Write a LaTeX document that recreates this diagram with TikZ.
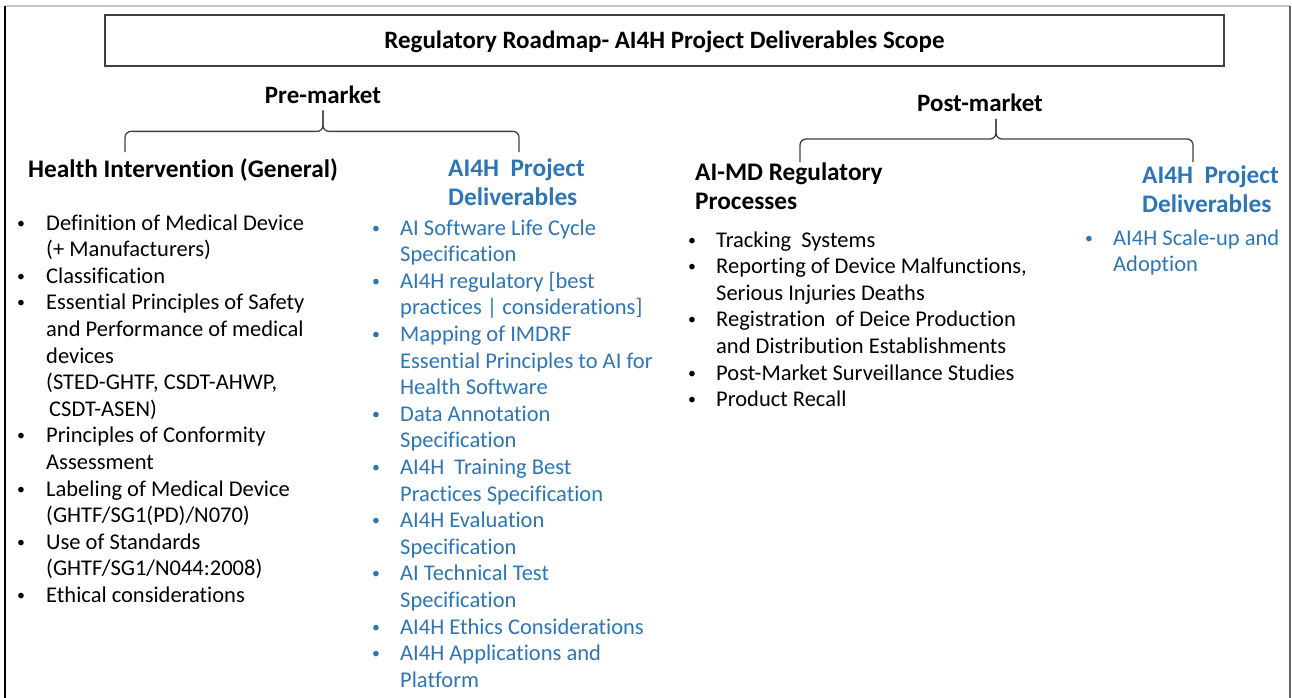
\documentclass[tikz,border=0pt]{standalone}
\usepackage{fontspec}
\setmainfont{Carlito}[Ligatures=NoCommon]
\usetikzlibrary{positioning, calc}

\definecolor{aiblue}{RGB}{46,117,182}
\definecolor{framegray}{RGB}{195,195,195}

\newcommand{\bl}{\raisebox{2pt}{\scalebox{0.7}{\textbullet}}} % list bullet

\begin{document}
\begin{tikzpicture}[
    x=1pt, y=-1pt, % one unit = one pixel, y going down
    % Styles
    title/.style={ % Roadmap title box
        rectangle,
        draw=black!75,
        line width=1.5pt,
        minimum width=1119pt,
        minimum height=51pt,
        text height=18pt,
        text depth=1pt,
        font=\bfseries\fontsize{25}{29}\selectfont
    },
    phase/.style={ % Pre-/Post-market labels
        inner sep=0pt,
        anchor=base,
        font=\bfseries\fontsize{25}{29}\selectfont
    },
    head/.style={ % Column headings (placed at last baseline)
        inner sep=0pt,
        anchor=base west,
        align=left,
        font=\bfseries\fontsize{25.3}{29}\selectfont
    },
    list/.style={ % Bullet lists
        inner sep=0pt,
        anchor=base west,
        font=\fontsize{22.5}{26.6}\selectfont
    },
    brace/.style={ % Curly braces
        draw=black!75,
        line width=1.3pt,
        rounded corners=6pt
    }
]

    % Frame
    \useasboundingbox (0,0) rectangle (1292,698);
    \draw[framegray, line width=1.2pt] (5,6) -- (1290,6);
    \draw[black!60, line width=1.2pt] (1290,6) -- (1290,698);
    \draw[black, line width=2pt] (5,6) -- (5,698);

    % Title
    \node[title] (title) at (664.5,40.5) {Regulatory Roadmap- AI4H Project Deliverables Scope};

    % Phases
    \node[phase] (pre) at (323,103) {Pre-market};
    \node[phase] (post) at (980,112) {Post-market};

    % Column headings
    \node[head] (hiHead) at (28,177) {Health Intervention (General)};
    \node[head, aiblue] (aiHead) at (448,205) {AI4H\ \ Project\\Deliverables};
    \node[head] (mdHead) at (695,209) {AI-MD Regulatory\\Processes};
    \node[head, aiblue] (adHead) at (1142,212) {AI4H\ \ Project\\Deliverables};

    % Braces
    \coordinate (preL) at (125,152);
    \coordinate (preR) at (519,152);
    \path (pre.south) ++(0,7) coordinate (preTip) ++(0,21) coordinate (preMid);
    \foreach \E in {preL, preR} {
        \draw[brace] (\E) |- (preMid) -- (preTip);
    }
    \coordinate (postL) at (800,162);
    \coordinate (postR) at (1193,162);
    \coordinate (postTip) at (996,119);
    \coordinate (postMid) at (996,139);
    \foreach \E in {postL, postR} {
        \draw[brace] (\E) |- (postMid) -- (postTip);
    }

    % Pre-market lists
    \node[list] (hiList) at (17,230) {\begin{tabular}[t]{@{}p{29pt}@{}l@{}}
        \bl & Definition of Medical Device\\
            & (+ Manufacturers)\\
        \bl & Classification\\
        \bl & Essential Principles of Safety\\
            & and Performance of medical\\
            & devices\\
            & (STED-GHTF, CSDT-AHWP,\\
            & \hspace{3pt}CSDT-ASEN)\\
        \bl & Principles of Conformity\\
            & Assessment\\
        \bl & Labeling of Medical Device\\
            & (GHTF/SG1(PD)/N070)\\
        \bl & Use of Standards\\
            & (GHTF/SG1/N044:2008)\\
        \bl & Ethical considerations
    \end{tabular}};
    \node[list, aiblue] (aiList) at (372,235) {\begin{tabular}[t]{@{}p{28pt}@{}l@{}}
        \bl & AI Software Life Cycle\\
            & Specification\\
        \bl & AI4H regulatory [best\\
            & practices | considerations]\\
        \bl & Mapping of IMDRF\\
            & Essential Principles to AI for\\
            & Health Software\\
        \bl & Data Annotation\\
            & Specification\\
        \bl & AI4H\ \ Training Best\\
            & Practices Specification\\
        \bl & AI4H Evaluation\\
            & Specification\\
        \bl & AI Technical Test\\
            & Specification\\
        \bl & AI4H Ethics Considerations\\
        \bl & AI4H Applications and\\
            & Platform
    \end{tabular}};

    % Post-market lists
    \node[list] (mdList) at (688,247) {\begin{tabular}[t]{@{}p{28pt}@{}l@{}}
        \bl & Tracking\ \ Systems\\
        \bl & Reporting of Device Malfunctions,\\
            & Serious Injuries Deaths\\
        \bl & Registration\ \ of Deice Production\\
            & and Distribution Establishments\\
        \bl & Post-Market Surveillance Studies\\
        \bl & Product Recall
    \end{tabular}};
    \node[list, aiblue] (adList) at (1085,245) {\begin{tabular}[t]{@{}p{28pt}@{}l@{}}
        \bl & AI4H Scale-up and\\
            & Adoption
    \end{tabular}};
\end{tikzpicture}
\end{document}
